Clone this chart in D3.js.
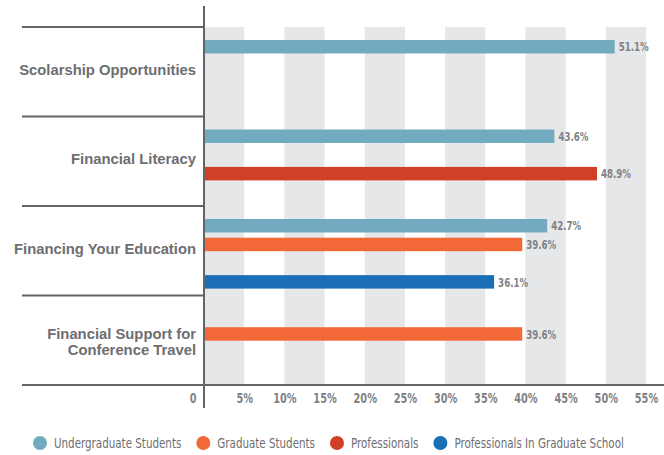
<!DOCTYPE html>
<html>
<head>
<meta charset="utf-8">
<script src="https://cdn.jsdelivr.net/npm/d3@7"></script>
<style>
  body { margin: 0; background: #fff; }
  .cat { font-family: "Liberation Sans", Arial, sans-serif; font-weight: bold; font-size: 14.8px; fill: #6d6e71; }
  .cond { font-family: "DejaVu Sans Condensed", "Liberation Sans Narrow", sans-serif; }
</style>
</head>
<body>
<svg id="chart" width="664" height="455"></svg>
<script>
var categories = ["Scolarship Opportunities", "Financial Literacy", "Financing Your Education", "Financial Support for\nConference Travel"];
var seriesNames = ["Undergraduate Students", "Graduate Students", "Professionals", "Professionals In Graduate School"];
var seriesColors = ["#72aabf", "#f26836", "#d03f26", "#1b6fb7"];
// one row per series, null = no bar in that category
var undergrad = [51.1, 43.6, 42.7, null];
var graduate = [null, null, 39.6, 39.6];
var professionals = [null, 48.9, null, null];
var profGradSchool = [null, null, 36.1, null];
var tickValues = [0, 5, 10, 15, 20, 25, 30, 35, 40, 45, 50, 55];

(function(){
  var series = [undergrad, graduate, professionals, profGradSchool];

  var svg = d3.select("#chart");
  var plotLeft = 204, plotRight = 646, plotTop = 27, plotBottom = 385;

  var x = d3.scaleLinear().domain([0, 55]).range([plotLeft, plotRight]);
  var y = d3.scaleBand().domain(categories).range([plotTop, plotBottom]);
  var y1 = d3.scaleBand().domain(seriesNames).range([13, 82.6]).paddingInner(0.28).paddingOuter(0);

  // stripes
  svg.append("g").selectAll("rect")
    .data(tickValues.filter(function(d, i) { return i % 2 == 0 && d < 55; }))
    .enter().append("rect")
      .attr("x", function(d) { return x(d); })
      .attr("y", plotTop)
      .attr("width", function(d) { return x(d + 5) - x(d); })
      .attr("height", plotBottom - plotTop)
      .attr("fill", "#e6e7e8");

  // bars
  var bars = [];
  series.forEach(function(vals, s) {
    vals.forEach(function(v, c) {
      if (v != null) bars.push({ cat: categories[c], name: seriesNames[s], color: seriesColors[s], value: v });
    });
  });

  var g = svg.append("g");
  g.selectAll("rect")
    .data(bars)
    .enter().append("rect")
      .attr("x", x(0) + 1)
      .attr("y", function(d) { return y(d.cat) + y1(d.name); })
      .attr("width", function(d) { return x(d.value) - x(0) - 1; })
      .attr("height", y1.bandwidth())
      .attr("fill", function(d) { return d.color; });

  // value labels, squeezed horizontally to fake a condensed face
  g.selectAll("text")
    .data(bars)
    .enter().append("text")
      .attr("class", "cond")
      .attr("transform", function(d) {
        return "translate(" + (x(d.value) + 4) + "," + (y(d.cat) + y1(d.name) + y1.bandwidth() / 2) + ") scale(0.74,1)";
      })
      .attr("dy", "0.36em")
      .attr("font-size", 13)
      .attr("font-weight", "bold")
      .attr("fill", "#808285")
      .text(function(d) { return d.value.toFixed(1) + "%"; });

  // separators
  svg.append("g").selectAll("line")
    .data(categories)
    .enter().append("line")
      .attr("x1", 22).attr("x2", plotLeft)
      .attr("y1", function(d) { return y(d); })
      .attr("y2", function(d) { return y(d); })
      .attr("stroke", "#636466").attr("stroke-width", 2);

  svg.append("line")
    .attr("x1", 22).attr("x2", 664)
    .attr("y1", plotBottom).attr("y2", plotBottom)
    .attr("stroke", "#636466").attr("stroke-width", 2);

  svg.append("line")
    .attr("x1", plotLeft).attr("x2", plotLeft)
    .attr("y1", 6).attr("y2", 408)
    .attr("stroke", "#636466").attr("stroke-width", 2);

  // category labels
  svg.append("g").selectAll("text")
    .data(categories)
    .enter().append("text")
      .attr("class", "cat")
      .attr("text-anchor", "end")
      .attr("x", 196)
      .attr("y", function(d) { return y(d) + y.bandwidth() / 2; })
      .each(function(d) {
        var lines = d.split("\n");
        var t = d3.select(this);
        lines.forEach(function(l, i) {
          t.append("tspan")
            .attr("x", 196)
            .attr("dy", i == 0 ? (3 - (lines.length - 1) * 4) : 16)
            .text(l);
        });
      });

  // x axis
  var xAxis = d3.axisBottom(x).tickValues(tickValues).tickSize(0).tickPadding(0)
    .tickFormat(function(d) { return d == 0 ? "0" : d + "%"; });

  var ax = svg.append("g")
    .attr("transform", "translate(0," + 393 + ")")
    .call(xAxis);
  ax.select(".domain").remove();
  ax.selectAll("text")
    .attr("class", "cond")
    .attr("font-size", 14.5)
    .attr("font-weight", "bold")
    .attr("fill", "#808285")
    .attr("transform", "scale(0.75,1)")
    .attr("dx", function(d) { return d == 0 ? -15 : 0; });

  // legend
  var legend = svg.append("g").attr("transform", "translate(0,443)");
  var lx = 33;
  seriesNames.forEach(function(name, i) {
    legend.append("circle")
      .attr("cx", lx + 7).attr("cy", 0).attr("r", 7)
      .attr("fill", seriesColors[i]);
    var t = legend.append("text")
      .attr("class", "cond")
      .attr("transform", "translate(" + (lx + 21) + ",0) scale(0.82,1)")
      .attr("dy", "0.36em")
      .attr("font-size", 14)
      .attr("fill", "#6d6e71")
      .text(name);
    lx = lx + 21 + t.node().getComputedTextLength() * 0.82 + 15;
  });
})();
</script>
</body>
</html>
